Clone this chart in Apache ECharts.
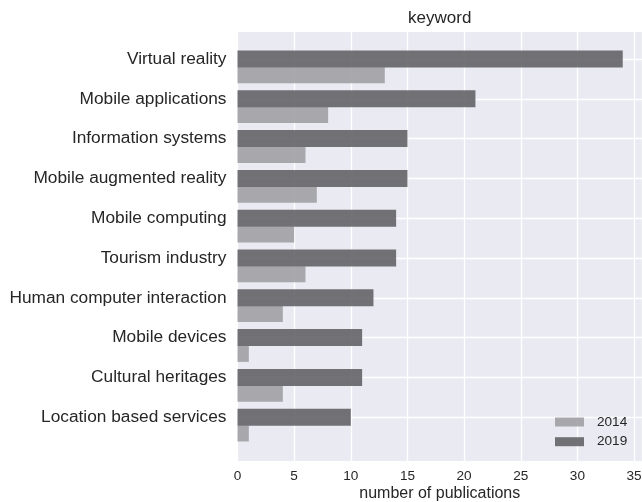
<!DOCTYPE html>
<html>
<head>
<meta charset="utf-8">
<script src="https://cdn.jsdelivr.net/npm/echarts@6/dist/echarts.min.js"></script>
<style>
  html, body { margin: 0; padding: 0; background: #ffffff; }
  #chart { width: 642px; height: 502px; }
</style>
</head>
<body>
<div id="chart"></div>
<script>
// Keyword counts per year
const keywords = [
  'Virtual reality',
  'Mobile applications',
  'Information systems',
  'Mobile augmented reality',
  'Mobile computing',
  'Tourism industry',
  'Human computer interaction',
  'Mobile devices',
  'Cultural heritages',
  'Location based services'
];
const pubs2019 = [34, 21, 15, 15, 14, 14, 12, 11, 11, 10];
const pubs2014 = [13, 8, 6, 7, 5, 6, 4, 1, 4, 1];
const xTicks = [0, 5, 10, 15, 20, 25, 30, 35];

const FONT = '"Liberation Sans", Arial, sans-serif';
const TEXT = '#262626';
const X_MAX = 35.7;

// Plot frame
const plotLeft = 237.5, plotTop = 32, plotBottom = 41;
// Category rows: first tick y, spacing between rows
const rowTop = 59, rowStep = 39.8, rowSpan = rowStep * (keywords.length - 1);

const chart = echarts.init(document.getElementById('chart'), null, { renderer: 'canvas' });

const hiddenX = (gi) => ({ type: 'value', gridIndex: gi, min: 0, max: X_MAX, show: false });

chart.setOption({
  animation: false,
  backgroundColor: '#ffffff',
  title: {
    text: 'keyword',
    left: (plotLeft + 642) / 2,
    textAlign: 'center',
    top: 10,
    padding: 0,
    textStyle: { fontFamily: FONT, fontSize: 17, fontWeight: 'normal', color: TEXT }
  },
  legend: {
    data: ['2014', '2019'],
    orient: 'vertical',
    left: 555,
    top: 415,
    padding: 0,
    icon: 'rect',
    itemWidth: 29,
    itemHeight: 9,
    itemGap: 5.7,
    textStyle: { fontFamily: FONT, fontSize: 13.6, lineHeight: 14, color: TEXT, padding: [0, 0, 0, 8] }
  },
  grid: [
    // background frame with vertical grid lines and the x scale
    { left: plotLeft, right: 0, top: plotTop, bottom: plotBottom, show: true,
      backgroundColor: '#eaeaf2', borderWidth: 0, outerBoundsMode: 'none' },
    // 2019 rows (labels + horizontal grid lines)
    { left: plotLeft, right: 0, top: rowTop, height: rowSpan, outerBoundsMode: 'none' },
    // 2014 rows, one bar thickness below
    { left: plotLeft, right: 0, top: rowTop + 16.3, height: rowSpan, outerBoundsMode: 'none' }
  ],
  xAxis: [
    {
      type: 'value', gridIndex: 0, min: 0, max: X_MAX, interval: 5,
      axisLine: { show: false }, axisTick: { show: false },
      splitLine: { show: true, lineStyle: { color: '#ffffff', width: 1.3 } },
      axisLabel: {
        fontFamily: FONT, fontSize: 13.6, color: TEXT,
        margin: 8, verticalAlign: 'top', lineHeight: 14,
        showMaxLabel: false,
        formatter: (v) => (xTicks.indexOf(v) >= 0 ? String(v) : '')
      },
      name: 'number of publications',
      nameLocation: 'middle',
      nameGap: 25,
      nameMoveOverlap: false,
      nameTextStyle: { fontFamily: FONT, fontSize: 16, color: TEXT, verticalAlign: 'top', lineHeight: 16 }
    },
    hiddenX(1),
    hiddenX(2)
  ],
  yAxis: [
    { type: 'value', gridIndex: 0, min: 0, max: 1, show: false },
    {
      type: 'category', gridIndex: 1, data: keywords, inverse: true, boundaryGap: false,
      axisLine: { show: false }, axisTick: { show: false },
      splitLine: { show: true, lineStyle: { color: '#ffffff', width: 1.3 } },
      axisLabel: { fontFamily: FONT, fontSize: 17.3, color: TEXT, margin: 11, interval: 0 }
    },
    { type: 'category', gridIndex: 2, data: keywords, inverse: true, boundaryGap: false, show: false }
  ],
  series: [
    {
      name: '2014', type: 'bar', xAxisIndex: 2, yAxisIndex: 2,
      data: pubs2014, barWidth: 16,
      itemStyle: { color: 'rgba(155,155,160,0.85)' },
      z: 3
    },
    {
      name: '2019', type: 'bar', xAxisIndex: 1, yAxisIndex: 1,
      data: pubs2019, barWidth: 17,
      itemStyle: { color: 'rgba(90,90,95,0.85)' },
      z: 3
    }
  ]
});
</script>
</body>
</html>
